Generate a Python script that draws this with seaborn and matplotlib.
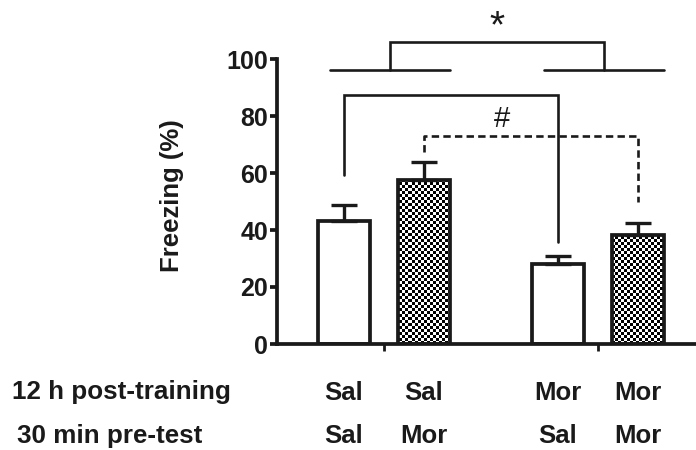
import numpy as np
import pandas as pd
import seaborn as sns
import matplotlib
matplotlib.use("Agg")
import matplotlib.pyplot as plt
from matplotlib.transforms import blended_transform_factory

# ---- data ----
post_training = ["Sal", "Sal", "Mor", "Mor"]
pre_test = ["Sal", "Mor", "Sal", "Mor"]
freezing = [43.2, 57.5, 28.0, 38.2]
sem = [5.6, 6.4, 2.9, 4.3]
group_order = ["Sal", "Mor"]
yticks = [0, 20, 40, 60, 80, 100]
row_titles = ["12 h post-training", "30 min pre-test"]
ylabel = "Freezing (%)"
star_label = "*"
hash_label = "#"

INK = "#1a1a1a"

sns.set_theme(style="ticks")
plt.rcParams["font.family"] = ["Liberation Sans", "DejaVu Sans"]

fig = plt.figure(figsize=(6.96, 4.5), dpi=100)
ax = fig.add_axes([277 / 696, 1 - 344 / 450, 419 / 696, 285 / 450])

df = pd.DataFrame({"post": post_training, "pre": pre_test, "freezing": freezing})
sns.barplot(data=df, x="post", y="freezing", hue="pre",
            order=group_order, hue_order=group_order,
            palette={"Sal": "white", "Mor": "white"}, saturation=1,
            edgecolor=INK, linewidth=2.7, width=0.747, gap=0.36,
            errorbar=None, legend=False, ax=ax)

XLIM = (-0.5, 1.458)
ax.set_xlim(*XLIM)
ax.set_ylim(0, 100)

bars = sorted(ax.patches, key=lambda p: p.get_x())
centers = [p.get_x() + p.get_width() / 2 for p in bars]
heights = [p.get_height() for p in bars]

# checkerboard fill for morphine pre-test bars
ny, nx = 95, 140
checker = (np.add.outer(np.arange(ny), np.arange(nx)) % 2).astype(float)
for p, pre in zip(bars, pre_test):
    p.set_linewidth(2.7)
    p.set_edgecolor(INK)
    if pre == "Mor":
        p.set_facecolor("none")
        im = ax.imshow(checker, extent=(XLIM[0], XLIM[1], 0, 100), cmap="gray",
                       vmin=0, vmax=1, interpolation="nearest", aspect="auto",
                       zorder=p.get_zorder() - 0.1)
        im.set_clip_path(p)
ax.set_xlim(*XLIM)
ax.set_ylim(0, 100)

ax.errorbar(centers, heights, yerr=[np.zeros(len(sem)), sem], fmt="none",
            ecolor=INK, elinewidth=2.4, capsize=9.5, capthick=2.4, zorder=3)

# axes styling
sns.despine(ax=ax)
for s in ["left", "bottom"]:
    ax.spines[s].set_linewidth(2.7)
    ax.spines[s].set_color(INK)
ax.set_yticks(yticks)
ax.set_yticklabels([str(t) for t in yticks], fontsize=18, fontweight="bold", color=INK)
ax.tick_params(axis="y", left=True, direction="out", length=5, width=2.7, pad=1.5, color=INK)
ax.set_xticks([0, 1])
ax.set_xticklabels([])
ax.tick_params(axis="x", bottom=True, direction="out", length=5, width=2.0, color=INK)
ax.set_xlabel("")
ax.set_ylabel("")
ax.text(-0.25, 0.519, ylabel, transform=ax.transAxes, rotation=90, ha="center",
        va="center", fontsize=18.5, fontweight="bold", color=INK)

# row labels
fig.text(12 / 696, 1 - 399 / 450, row_titles[0], ha="left", va="baseline",
         fontsize=18.7, fontweight="bold", color=INK)
fig.text(17 / 696, 1 - 443 / 450, row_titles[1], ha="left", va="baseline",
         fontsize=18.7, fontweight="bold", color=INK)
trans = blended_transform_factory(ax.transData, fig.transFigure)
for c, a, b in zip(centers, post_training, pre_test):
    ax.text(c, 1 - 400 / 450, a, transform=trans, ha="center", va="baseline",
            fontsize=18.5, fontweight="bold", color=INK)
    ax.text(c, 1 - 443 / 450, b, transform=trans, ha="center", va="baseline",
            fontsize=18.5, fontweight="bold", color=INK)

# significance brackets
lw_b = 1.9
ax.plot([centers[0], centers[0], centers[2], centers[2]], [59.3, 87.4, 87.4, 35.8],
        color=INK, lw=lw_b, solid_joinstyle="miter", clip_on=False, zorder=4)
ax.plot([centers[1], centers[1], centers[3], centers[3]], [67.4, 73.0, 73.0, 49.8],
        color=INK, lw=lw_b, linestyle=(0, (2.8, 1.6)), clip_on=False, zorder=4)
for g in [0, 1]:
    ax.plot([g - 0.25, g + 0.31], [96, 96], color=INK, lw=lw_b, clip_on=False, zorder=4)
ax.plot([0.03, 0.03, 1.03, 1.03], [96, 106, 106, 96], color=INK, lw=lw_b,
        solid_joinstyle="miter", clip_on=False, zorder=4)
ax.text(0.53, 107.5, star_label, ha="center", va="baseline", fontsize=28, color=INK)
ax.text(0.55, 76.1, hash_label, ha="center", va="baseline", fontsize=21, color=INK)

fig.savefig("out.png", dpi=100)
